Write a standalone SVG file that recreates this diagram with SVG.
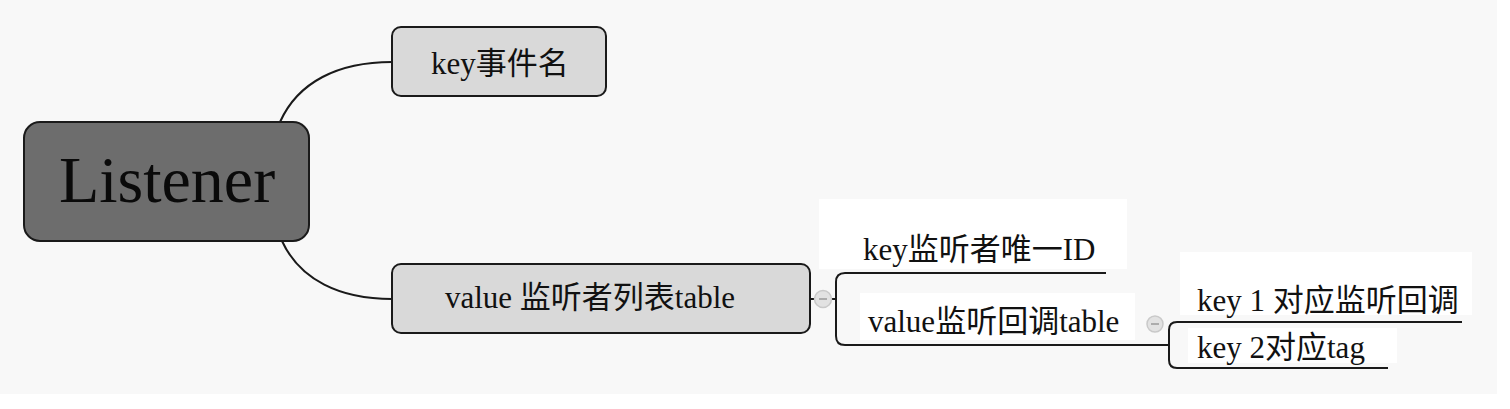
<svg xmlns="http://www.w3.org/2000/svg" width="1510" height="409" viewBox="0 0 1510 409">
<style>
.bg{fill:#f8f8f8}
.box{fill:#d9d9d9;stroke:#1a1a1a;stroke-width:2}
.root{fill:#6d6d6d;stroke:#1a1a1a;stroke-width:2}
.t{font-family:"Liberation Serif","Noto Sans CJK SC",serif;font-size:31px;fill:#111}
.tr{font-family:"Liberation Serif","Noto Sans CJK SC",serif;font-size:66px;fill:#0a0a0a}
.lbl{fill:#ffffff}
.c{fill:none;stroke:#1a1a1a;stroke-width:2}
.tog{fill:#e2e2e2;stroke:#c9c9c9;stroke-width:1.5}
.togm{stroke:#9a9a9a;stroke-width:1.5}
</style>
<rect x="0" y="0" width="1510" height="409" fill="#ffffff"/>
<rect class="bg" x="0" y="0" width="1497" height="394"/>
<g id="connectors">
<path class="c" d="M280,122 C298,82 338,62 392,62"/>
<path class="c" d="M282,241 C300,280 340,299 392,299"/>
<line class="c" x1="810" y1="299" x2="836" y2="299"/>
<path class="c" d="M1106,273 H845 Q836,273 836,282 V336 Q836,345 845,345 H1169"/>
<path class="c" d="M1462,322 H1177 Q1169,322 1169,330 V360 Q1169,368 1177,368 H1388"/>
</g>
<g id="toggle1"><circle class="tog" cx="823" cy="299" r="8.5"/><line class="togm" x1="819" y1="299" x2="827" y2="299"/></g>
<g id="toggle2"><circle class="tog" cx="1155" cy="324" r="8"/><line class="togm" x1="1151" y1="324" x2="1159" y2="324"/></g>
<g id="listener">
<rect class="root" x="24" y="122" width="285" height="119" rx="16"/>
<text class="tr" x="167" y="202" text-anchor="middle">Listener</text>
</g>
<g id="key-event">
<rect class="box" x="392" y="27" width="214" height="69" rx="9"/>
<text class="t" x="500" y="74" text-anchor="middle">key事件名</text>
</g>
<g id="value-list">
<rect class="box" x="392" y="264" width="418" height="69" rx="9"/>
<text class="t" x="590" y="308" text-anchor="middle">value 监听者列表table</text>
</g>
<g id="key-id">
<rect class="lbl" x="819" y="199" width="308" height="70"/>
<text class="t" x="863" y="260">key监听者唯一ID</text>
</g>
<g id="value-callback">
<rect class="lbl" x="860" y="293" width="275" height="47"/>
<text class="t" x="868" y="332">value监听回调table</text>
</g>
<g id="key1">
<rect class="lbl" x="1180" y="252" width="292" height="63"/>
<text class="t" x="1197" y="311">key 1 对应监听回调</text>
</g>
<g id="key2">
<rect class="lbl" x="1188" y="328" width="209" height="35"/>
<text class="t" x="1197" y="358">key 2对应tag</text>
</g>
</svg>
